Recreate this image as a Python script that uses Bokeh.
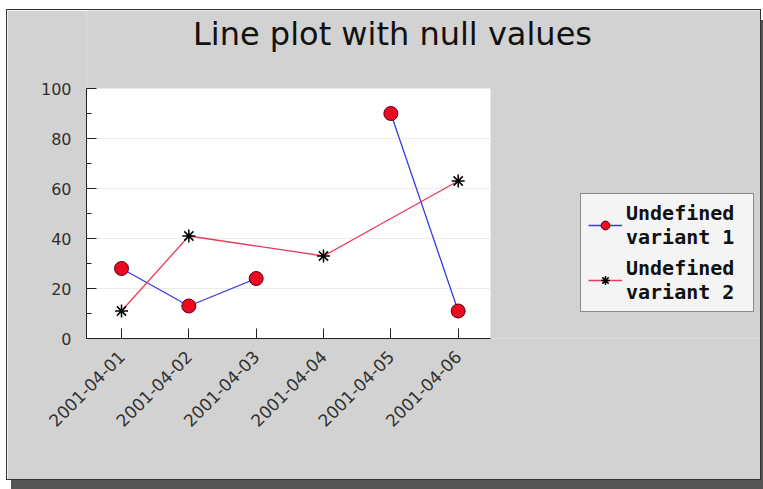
import math
import numpy as np
from bokeh.plotting import figure
from bokeh.models import (Legend, LegendItem, Label, BoxAnnotation,
                          FixedTicker, SingleIntervalTicker)
from bokeh.embed import file_html
from bokeh.resources import INLINE

# ---- data ----
dates = ["2001-04-01", "2001-04-02", "2001-04-03",
         "2001-04-04", "2001-04-05", "2001-04-06"]
variant1 = [28, 13, 24, None, 90, 11]      # None -> line break
variant2 = [11, 41, None, 33, None, 63]    # None -> bridged
series_names = ["Undefined \nvariant 1 ", "Undefined \nvariant 2 "]
title_text = "Line plot with null values"
y_ticks_step = 20

x_pos = list(range(len(dates)))
v1 = np.array([np.nan if v is None else v for v in variant1], dtype=float)
x2 = [x for x, v in zip(x_pos, variant2) if v is not None]
y2 = [v for v in variant2 if v is not None]

# plot-area extent (in axis units) and the wider frame that also hosts
# the title and legend
x_lo, x_hi = -0.52, len(dates) - 0.52
y_lo, y_hi = 0, 100
px_per_x = 404 / (x_hi - x_lo)
px_per_y = 250 / (y_hi - y_lo)
frame_w, frame_h = 674, 328

p = figure(width=753, height=469,
           x_range=(x_lo, x_lo + frame_w / px_per_x),
           y_range=(y_lo, y_lo + frame_h / px_per_y),
           output_backend="svg", toolbar_location=None,
           min_border_left=79, min_border_right=0,
           min_border_top=0, min_border_bottom=141,
           border_fill_color="#d2d2d2", background_fill_color="#d2d2d2",
           outline_line_color=None,
           styles={"position": "relative", "left": "7px", "top": "10px",
                   "outline": "1px solid #333333",
                   "box-shadow": "4px 10px 0 #555555"})

# white plot area
p.add_layout(BoxAnnotation(left=x_lo, right=x_hi, bottom=y_lo, top=y_hi,
                           fill_color="white", fill_alpha=1,
                           line_color=None, level="image"))

# ---- series ----
l1 = p.line(x_pos, v1, line_color="#3a3ae0", line_width=1.3)
m1 = p.scatter(x_pos, v1, marker="circle", size=14,
               fill_color="#ea0a22", line_color="#5a0010", line_width=1)
l2 = p.line(x2, y2, line_color="#ee3a5a", line_width=1.3)
m2 = p.scatter(x2, y2, marker="asterisk", size=13,
               line_color="black", line_width=1.5)

# ---- axes ----
p.xaxis.ticker = FixedTicker(ticks=x_pos)
p.xaxis.major_label_overrides = {i: d for i, d in enumerate(dates)}
p.xaxis.major_label_orientation = math.pi / 4
p.xaxis.bounds = (x_lo, x_hi)
p.xaxis.major_tick_in = 10
p.xaxis.major_tick_out = 0
p.xaxis.minor_tick_line_color = None
p.xaxis.major_label_standoff = 15
p.yaxis.ticker = SingleIntervalTicker(interval=y_ticks_step, num_minor_ticks=2)
p.yaxis.bounds = (y_lo, y_hi)
p.yaxis.major_tick_in = 10
p.yaxis.major_tick_out = 0
p.yaxis.minor_tick_in = 5
p.yaxis.minor_tick_out = 0
p.yaxis.major_label_standoff = 15
for ax in (p.xaxis, p.yaxis):
    ax.axis_line_color = "#222222"
    ax.major_tick_line_color = "#222222"
    ax.major_label_text_font = "DejaVu Sans"
    ax.major_label_text_color = "#303030"
p.xaxis.major_label_text_font_size = "17px"
p.yaxis.major_label_text_font_size = "16px"
p.yaxis.minor_tick_line_color = "#222222"
p.xgrid.visible = False
yg = p.ygrid[0]
yg.grid_line_color = "#ececec"
yg.bounds = (y_lo + y_ticks_step, y_hi - y_ticks_step)
if "cross_bounds" in yg.properties():
    yg.cross_bounds = (x_lo, x_hi)

# ---- title ----
p.add_layout(Label(x=306, y=305, x_units="screen", y_units="screen",
                   text=title_text, text_align="center",
                   text_baseline="middle", text_font="DejaVu Sans",
                   text_font_size="32px", text_color="#111111"))

# ---- legend ----
legend = Legend(items=[LegendItem(label=series_names[0], renderers=[l1, m1]),
                       LegendItem(label=series_names[1], renderers=[l2, m2])],
                location=(494, 26), orientation="vertical",
                label_text_font="DejaVu Sans Mono",
                label_text_font_style="bold",
                label_text_font_size="20px",
                label_text_color="#111111",
                label_text_line_height=1.25,
                glyph_width=34, glyph_height=22, label_standoff=4,
                padding=7, spacing=7, margin=0,
                background_fill_color="#f4f4f4", background_fill_alpha=1,
                border_line_color="#222222", border_line_width=1)
p.add_layout(legend)

open("out.html", "w").write(file_html(p, INLINE))
